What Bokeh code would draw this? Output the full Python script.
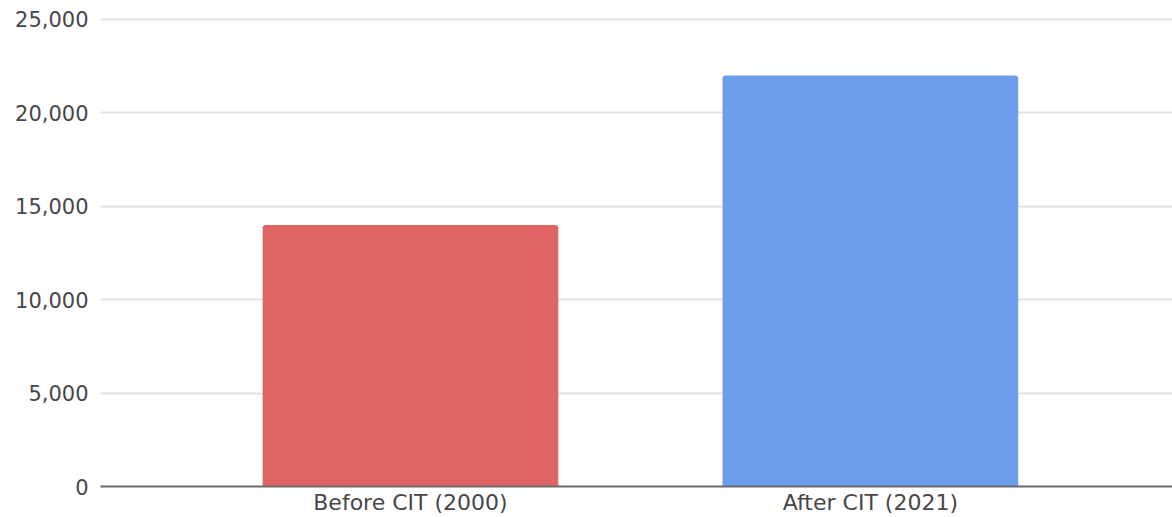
from bokeh.plotting import figure
from bokeh.models import ColumnDataSource, FixedTicker, NumeralTickFormatter, Range1d
from bokeh.embed import file_html
from bokeh.resources import INLINE

categories = ["Before CIT (2000)", "After CIT (2021)"]
values = [14000, 22000]
colors = ["#e06666", "#6d9eeb"]
y_ticks = [0, 5000, 10000, 15000, 20000, 25000]

xpos = list(range(len(categories)))
src = ColumnDataSource(dict(x=xpos, top=values, color=colors, label=categories))

p = figure(width=1172, height=517, output_backend="svg", toolbar_location=None,
           x_range=Range1d(-0.674, 1.657), y_range=Range1d(0, 25267),
           min_border_left=100, min_border_right=0, min_border_top=14, min_border_bottom=30)
p.outline_line_color = None
p.background_fill_color = "white"
p.border_fill_color = "white"

p.vbar(x="x", top="top", width=0.643, color="color", source=src, line_color=None,
       border_radius=(3, 3, 0, 0))

p.xgrid.visible = False
p.ygrid.ticker = FixedTicker(ticks=y_ticks)
p.ygrid.grid_line_color = "#e3e3e3"
p.ygrid.grid_line_width = 2

p.yaxis.ticker = FixedTicker(ticks=y_ticks)
p.yaxis.formatter = NumeralTickFormatter(format="0,0")
p.yaxis.axis_line_color = None
p.yaxis.major_tick_line_color = None
p.yaxis.minor_tick_line_color = None
p.yaxis.major_tick_out = 0
p.yaxis.major_tick_in = 0
p.yaxis.major_label_text_font = "DejaVu Sans"
p.yaxis.major_label_text_font_size = "21px"
p.yaxis.major_label_text_color = "#474747"
p.yaxis.major_label_standoff = 12

p.xaxis.ticker = FixedTicker(ticks=xpos)
p.xaxis.major_label_overrides = {i: c for i, c in zip(xpos, categories)}
p.xaxis.axis_line_color = "#6b6b6b"
p.xaxis.axis_line_width = 2
p.xaxis.major_tick_line_color = None
p.xaxis.minor_tick_line_color = None
p.xaxis.major_tick_out = 0
p.xaxis.major_tick_in = 0
p.xaxis.major_label_text_font = "DejaVu Sans"
p.xaxis.major_label_text_font_size = "22px"
p.xaxis.major_label_text_color = "#474747"
p.xaxis.major_label_standoff = 3

open("out.html", "w").write(file_html(p, INLINE))
